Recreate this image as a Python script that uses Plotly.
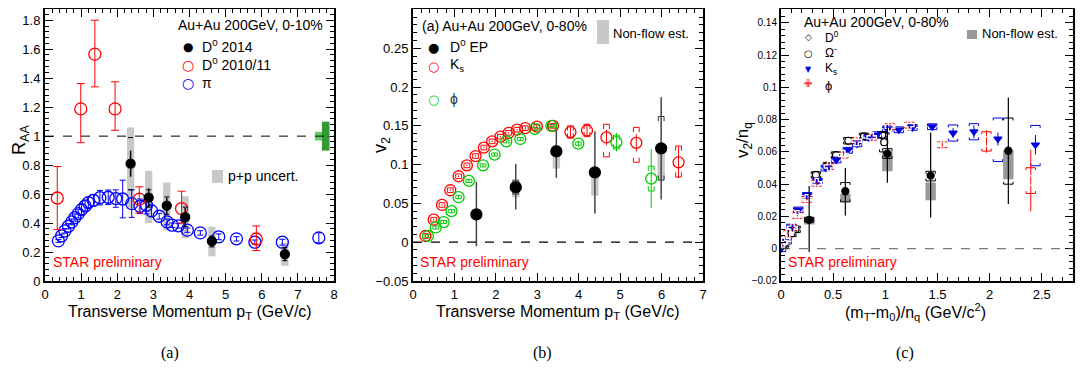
import plotly.graph_objects as go

# page body has an 8px margin: figure is sized to fit inside the window
OFF = 8
W, H = 1088 - 2 * OFF, 372 - 2 * OFF

# ---------------- Panel (a): R_AA ----------------
a_pi_x = [0.37, 0.46, 0.55, 0.65, 0.74, 0.83, 0.92, 1.01, 1.11, 1.20, 1.34, 1.52, 1.75, 1.96, 2.15,
          2.40, 2.63, 2.81, 2.95, 3.16, 3.38, 3.52, 3.69, 3.94, 4.30, 4.81, 5.30, 5.81, 6.57, 7.58]
a_pi_y = [0.277, 0.312, 0.346, 0.378, 0.408, 0.438, 0.465, 0.493, 0.518, 0.541, 0.557, 0.575, 0.578, 0.569, 0.566,
          0.534, 0.516, 0.523, 0.484, 0.447, 0.408, 0.385, 0.381, 0.351, 0.332, 0.305, 0.291, 0.268, 0.268, 0.298]
a_pi_err = [0.01, 0.012, 0.015, 0.018, 0.02, 0.025, 0.03, 0.035, 0.035, 0.035, 0.04, 0.05, 0.05, 0.06, 0.13,
            0.095, 0.05, 0.06, 0.04, 0.02, 0.02, 0.015, 0.015, 0.015, 0.015, 0.02, 0.015, 0.015, 0.02, 0.035]

a_d11_x = [0.34, 0.99, 1.38, 1.94, 2.61, 3.78, 5.85]
a_d11_y = [0.573, 1.188, 1.566, 1.188, 0.565, 0.50, 0.29]
a_d11_up = [0.217, 0.175, 0.234, 0.187, 0.085, 0.12, 0.09]
a_d11_dn = [0.218, 0.233, 0.226, 0.148, 0.095, 0.10, 0.08]

a_d14_x = [2.37, 2.87, 3.37, 3.88, 4.62, 6.64]
a_d14_y = [0.81, 0.575, 0.52, 0.44, 0.275, 0.185]
a_d14_up = [0.09, 0.065, 0.055, 0.065, 0.04, 0.045]
a_d14_dn = [0.09, 0.065, 0.06, 0.065, 0.04, 0.045]
a_d14_syshi = [0.99, 0.63, 0.58, 0.51, 0.31, 0.23]
a_d14_syslo = [0.63, 0.51, 0.46, 0.375, 0.235, 0.14]
a_d14_boxhi = [1.06, 0.76, 0.68, 0.585, 0.375, 0.265]
a_d14_boxlo = [0.50, 0.40, 0.35, 0.295, 0.17, 0.105]

a_ref_x = [7.57, 7.77]
a_ref_half = [0.10, 0.105]
a_ref_lo = [0.97, 0.90]
a_ref_hi = [1.03, 1.10]

# ---------------- Panel (b): v2 vs pT ----------------
b_ks_x = [0.30, 0.50, 0.70, 0.90, 1.10, 1.30, 1.51, 1.71, 1.91, 2.11, 2.31, 2.51, 2.71, 2.99, 3.38,
          3.80, 4.20, 4.67, 5.39, 6.41]
b_ks_y = [0.008, 0.029, 0.048, 0.067, 0.085, 0.099, 0.111, 0.122, 0.130, 0.136, 0.141, 0.145, 0.147, 0.149, 0.150,
          0.142, 0.144, 0.135, 0.128, 0.103]
b_ks_err = [0.001, 0.001, 0.001, 0.001, 0.001, 0.001, 0.001, 0.001, 0.001, 0.001, 0.001, 0.001, 0.002, 0.002, 0.002,
            0.006, 0.007, 0.010, 0.011, 0.020]
b_ks_sysup = [0.003] * 15 + [0.008, 0.008, 0.017, 0.020, 0.021]
b_ks_sysdn = [0.003] * 15 + [0.008, 0.008, 0.025, 0.025, 0.019]

b_phi_x = [0.36, 0.55, 0.74, 0.93, 1.10, 1.35, 1.69, 1.97, 2.25, 2.59, 2.94, 3.34, 3.99, 4.91, 5.75]
b_phi_y = [0.008, 0.019, 0.026, 0.040, 0.058, 0.079, 0.099, 0.113, 0.130, 0.133, 0.146, 0.150, 0.127, 0.129, 0.082]
b_phi_err = [0.002, 0.002, 0.002, 0.002, 0.002, 0.002, 0.002, 0.002, 0.002, 0.002, 0.002, 0.003, 0.004, 0.012, 0.038]
b_phi_sys = [0.002] * 13 + [0.009, 0.016]

b_d0_x = [1.53, 2.48, 3.46, 4.39, 5.99]
b_d0_y = [0.036, 0.071, 0.117, 0.090, 0.121]
b_d0_up = [0.042, 0.030, 0.028, 0.053, 0.066]
b_d0_dn = [0.041, 0.029, 0.034, 0.053, 0.066]
b_d0_syshi = [0.037, 0.080, 0.123, 0.094, 0.162]
b_d0_syslo = [0.035, 0.062, 0.112, 0.085, 0.080]
b_d0_boxhi = [0.036, 0.078, 0.125, 0.092, 0.121]
b_d0_boxlo = [0.036, 0.058, 0.095, 0.060, 0.080]

# ---------------- Panel (c): v2/nq vs (mT-m0)/nq ----------------
c_d0_x = [0.27, 0.617, 1.02, 1.435, 2.18]
c_d0_y = [0.0179, 0.0356, 0.0589, 0.0453, 0.0607]
c_d0_up = [0.021, 0.0144, 0.0177, 0.0267, 0.033]
c_d0_dn = [0.020, 0.015, 0.018, 0.026, 0.033]
c_d0_xerr = [0.04, 0.0, 0.0, 0.0, 0.0]
c_d0_syshi = [0.0195, 0.041, 0.062, 0.048, 0.081]
c_d0_syslo = [0.0165, 0.029, 0.056, 0.042, 0.040]
c_d0_boxhi = [0.0195, 0.034, 0.0604, 0.041, 0.061]
c_d0_boxlo = [0.015, 0.029, 0.048, 0.030, 0.043]

c_om_x = [0.03, 0.10, 0.14, 0.335, 0.45, 0.527, 0.646, 0.796, 0.97, 0.99]
c_om_y = [0.003, 0.0095, 0.012, 0.0457, 0.0515, 0.058, 0.0669, 0.0696, 0.0705, 0.066]
c_om_sys = [0.002, 0.002, 0.002, 0.002, 0.002, 0.002, 0.002, 0.002, 0.002, 0.006]

c_ks_x = [0.0, 0.054, 0.10, 0.166, 0.25, 0.35, 0.43, 0.53, 0.64, 0.73, 0.84, 0.92, 1.02, 1.13, 1.26,
          1.45, 1.65, 1.85, 2.08, 2.44]
c_ks_y = [0.0, 0.0047, 0.0134, 0.024, 0.033, 0.042, 0.050, 0.055, 0.061, 0.065, 0.069, 0.0706, 0.0743, 0.0737, 0.0752,
          0.0756, 0.0717, 0.0725, 0.068, 0.0644]
c_ks_err = [0.0005] * 15 + [0.001, 0.003, 0.004, 0.004, 0.006]
c_ks_sysup = [0.0018] * 16 + [0.005, 0.005, 0.013, 0.012]
c_ks_sysdn = [0.0018] * 16 + [0.005, 0.005, 0.014, 0.013]

c_phi_x = [0.02, 0.04, 0.07, 0.11, 0.157, 0.246, 0.342, 0.46, 0.598, 0.726, 0.87, 1.045, 1.23, 1.547, 1.97, 2.395]
c_phi_y = [0.004, 0.0056, 0.0093, 0.013, 0.0206, 0.0305, 0.0406, 0.051, 0.058, 0.0669, 0.069, 0.0756, 0.0766,
           0.0644, 0.0665, 0.0422]
c_phi_err = [0.0005] * 13 + [0.001, 0.007, 0.019]
c_phi_sys = [0.0018] * 14 + [0.006, 0.008]

# ---------------- helpers ----------------
def px(x):
    return (x - OFF) / W


def py(y):
    return min(1.0, max(0.0, 1 - (y - OFF) / H))


def brackets(xs, lo, hi, w, h):
    bx, by = [], []
    for x, l, u in zip(xs, lo, hi):
        hh = min(h, (u - l) / 2.0)
        bx += [x - w, x - w, x + w, x + w, None, x - w, x - w, x + w, x + w, None]
        by += [u - hh, u, u, u - hh, None, l + hh, l, l, l + hh, None]
    return bx, by


def caps(xs, lo, hi, w):
    bx, by = [], []
    for x, l, u in zip(xs, lo, hi):
        bx += [x - w, x + w, None, x - w, x + w, None]
        by += [u, u, None, l, l, None]
    return bx, by


fig = go.Figure()
shapes = []
ann = []

FONT = "Liberation Sans"


def box_shapes(xs, lo, hi, w, color, xr, yr):
    for x, l, u in zip(xs, lo, hi):
        if u - l <= 0:
            continue
        shapes.append(dict(type="rect", xref=xr, yref=yr, x0=x - w, x1=x + w, y0=l, y1=u,
                           fillcolor=color, line=dict(width=0), layer="below"))


def errtr(xs, ys, up, dn, color, xa, ya, sym, size, mcolor=None, fill=None, lw=1, cap=3, xerr=None, mlw=1.3):
    m = dict(symbol=sym, size=size, color=fill if fill else color,
             line=dict(color=mcolor if mcolor else color, width=mlw))
    t = go.Scatter(x=xs, y=ys, mode="markers", marker=m, xaxis=xa, yaxis=ya, showlegend=False,
                   error_y=dict(type="data", symmetric=False, array=up, arrayminus=dn,
                                color=color, thickness=lw, width=cap))
    if xerr is not None:
        t.error_x = dict(type="data", array=xerr, color=color, thickness=lw, width=0)
    return t


def linetr(bx, by, color, xa, ya, width=1):
    return go.Scatter(x=bx, y=by, mode="lines", line=dict(color=color, width=width),
                      xaxis=xa, yaxis=ya, showlegend=False, hoverinfo="skip")


# ---- panel (a)
box_shapes(a_d14_x, a_d14_boxlo, a_d14_boxhi, 0.1, "#c8c8c8", "x", "y")
for x, hw, l, u, c in zip(a_ref_x, a_ref_half, a_ref_lo, a_ref_hi, ["#66cc66", "#339933"]):
    shapes.append(dict(type="rect", xref="x", yref="y", x0=x - hw, x1=x + hw, y0=l, y1=u,
                       fillcolor=c, line=dict(width=0), layer="above"))
shapes.append(dict(type="line", xref="x domain", yref="y", x0=0, x1=1, y0=1, y1=1,
                   line=dict(color="black", width=1, dash="dash")))
fig.add_trace(errtr(a_pi_x, a_pi_y, a_pi_err, a_pi_err, "#0000ff", "x", "y", "circle-open", 12, cap=3))
fig.add_trace(errtr(a_d11_x, a_d11_y, a_d11_up, a_d11_dn, "#ff0000", "x", "y", "circle-open", 12, cap=4))
cx, cy = caps(a_d14_x, a_d14_syslo, a_d14_syshi, 0.07)
fig.add_trace(linetr(cx, cy, "black", "x", "y"))
fig.add_trace(errtr(a_d14_x, a_d14_y, a_d14_up, a_d14_dn, "black", "x", "y", "circle", 9, cap=0, lw=1.5))

# ---- panel (b)
box_shapes(b_d0_x, b_d0_boxlo, b_d0_boxhi, 0.09, "#c8c8c8", "x2", "y2")
shapes.append(dict(type="line", xref="x2 domain", yref="y2", x0=0, x1=1, y0=0, y1=0,
                   line=dict(color="black", width=1.2, dash="dash")))
bx, by = brackets(b_ks_x, [y - d for y, d in zip(b_ks_y, b_ks_sysdn)],
                  [y + u for y, u in zip(b_ks_y, b_ks_sysup)], 0.07, 0.006)
fig.add_trace(linetr(bx, by, "#ff0000", "x2", "y2"))
bx, by = brackets(b_phi_x, [y - d for y, d in zip(b_phi_y, b_phi_sys)],
                  [y + d for y, d in zip(b_phi_y, b_phi_sys)], 0.07, 0.006)
fig.add_trace(linetr(bx, by, "#00cc00", "x2", "y2"))
bx, by = brackets(b_d0_x, b_d0_syslo, b_d0_syshi, 0.07, 0.006)
fig.add_trace(linetr(bx, by, "#333333", "x2", "y2"))
fig.add_trace(errtr(b_ks_x, b_ks_y, b_ks_err, b_ks_err, "#ff0000", "x2", "y2", "circle-open", 11, cap=0))
fig.add_trace(errtr(b_phi_x, b_phi_y, b_phi_err, b_phi_err, "#00cc00", "x2", "y2", "circle-open", 11, cap=0))
fig.add_trace(errtr(b_d0_x, b_d0_y, b_d0_up, b_d0_dn, "#444444", "x2", "y2", "circle", 11,
                    mcolor="black", fill="black", cap=0, lw=1.5))

# ---- panel (c)
box_shapes(c_d0_x, c_d0_boxlo, c_d0_boxhi, 0.05, "#999999", "x3", "y3")
shapes.append(dict(type="line", xref="x3 domain", yref="y3", x0=0, x1=1, y0=0, y1=0,
                   line=dict(color="#555555", width=1, dash="dash")))
bx, by = brackets(c_om_x, [y - d for y, d in zip(c_om_y, c_om_sys)],
                  [y + d for y, d in zip(c_om_y, c_om_sys)], 0.045, 0.0015)
fig.add_trace(linetr(bx, by, "black", "x3", "y3"))
bx, by = brackets(c_ks_x, [y - d for y, d in zip(c_ks_y, c_ks_sysdn)],
                  [y + u for y, u in zip(c_ks_y, c_ks_sysup)], 0.045, 0.0015)
fig.add_trace(linetr(bx, by, "#0000dd", "x3", "y3"))
bx, by = brackets(c_phi_x, [y - d for y, d in zip(c_phi_y, c_phi_sys)],
                  [y + d for y, d in zip(c_phi_y, c_phi_sys)], 0.045, 0.0015)
fig.add_trace(linetr(bx, by, "#ff0000", "x3", "y3"))
bx, by = brackets(c_d0_x, c_d0_syslo, c_d0_syshi, 0.045, 0.0015)
fig.add_trace(linetr(bx, by, "black", "x3", "y3"))
fig.add_trace(go.Scatter(x=c_om_x, y=c_om_y, mode="markers", xaxis="x3", yaxis="y3", showlegend=False,
                         marker=dict(symbol="circle-open", size=7, color="black", line=dict(width=1.2))))
fig.add_trace(errtr(c_ks_x, c_ks_y, c_ks_err, c_ks_err, "#0000dd", "x3", "y3", "triangle-down", 7, cap=0))
fig.add_trace(errtr(c_phi_x, c_phi_y, c_phi_err, c_phi_err, "#ff0000", "x3", "y3", "cross-open", 8, cap=0,
                    fill="white"))
fig.add_trace(errtr(c_d0_x, c_d0_y, c_d0_up, c_d0_dn, "black", "x3", "y3", "circle", 7, cap=0,
                    xerr=c_d0_xerr, lw=1.2))


# ---------------- axes ----------------
def ax(domain, rng, dtick, mdtick, fsize=13, tick0=0):
    return dict(domain=domain, range=rng, autorange=False, automargin=False, dtick=dtick, tick0=tick0,
                showline=True, linecolor="black", linewidth=2, mirror="allticks",
                ticks="inside", ticklen=8, tickwidth=1, tickcolor="black",
                showgrid=False, zeroline=False,
                tickfont=dict(family=FONT, size=fsize, color="black"),
                minor=dict(ticks="inside", ticklen=4, tickwidth=1, tickcolor="black",
                           dtick=mdtick, tick0=tick0, showgrid=False))


ydom = [py(281), 0.997]
fig.update_layout(
    width=W, height=H, margin=dict(l=0, r=0, t=0, b=0, autoexpand=False),
    paper_bgcolor="white", plot_bgcolor="white",
    xaxis=dict(ax([px(45), px(334)], [0, 8], 1, 0.2), anchor="y"),
    yaxis=dict(ax(ydom, [0, 1.877], 0.2, 0.04), anchor="x", tickformat="~g"),
    xaxis2=dict(ax([px(413), px(703)], [0, 7], 1, 0.2), anchor="y2"),
    yaxis2=dict(ax(ydom, [-0.05, 0.3005], 0.05, 0.01, tick0=-0.05), anchor="x2", tickformat="~g"),
    xaxis3=dict(ax([px(781), px(1073)], [0, 2.8], 0.5, 0.1), anchor="y3", tickformat="~g"),
    yaxis3=dict(ax(ydom, [-0.02, 0.1485], 0.02, 0.004, fsize=10, tick0=-0.02), anchor="x3", tickformat="~g"),
    showlegend=False,
)


def text(x, y, s, size=14, color="black", anchor="left", family=FONT, angle=0):
    ann.append(dict(x=px(x), y=py(y), xref="paper", yref="paper", text=s, showarrow=False,
                    xanchor=anchor, yanchor="middle", textangle=angle,
                    font=dict(family=family, size=size, color=color)))


def prect(x0, x1, y0, y1, color):
    shapes.append(dict(type="rect", xref="paper", yref="paper", x0=px(x0), x1=px(x1),
                       y0=py(y1), y1=py(y0), fillcolor=color, line=dict(width=0)))


SYM = "DejaVu Sans"
# panel (a) texts
text(176, 25, "Au+Au 200GeV, 0-10%", 14)
text(188, 47, "●", 12, "black", "center", SYM)
text(200, 46, "D<sup>0</sup> 2014", 14)
text(188, 65, "○", 14, "#ff0000", "center", SYM)
text(200, 64, "D<sup>0</sup> 2010/11", 14)
text(188, 83, "○", 14, "#0000ff", "center", SYM)
text(200, 83, "π", 14)
prect(212, 223, 170, 183, "#c8c8c8")
text(226, 176, "p+p uncert.", 14)
text(51, 262, "STAR preliminary", 14, "#ff0000")
text(20, 140, "R<sub>AA</sub>", 18, angle=-90, anchor="center")
text(190, 312, "Transverse Momentum p<sub>T</sub> (GeV/c)", 16, anchor="center")
text(170, 353, "(a)", 16, family="Liberation Serif", anchor="center")

# panel (b) texts
text(420, 26, "(a) Au+Au 200GeV, 0-80%", 14)
prect(597, 609, 20, 44, "#c8c8c8")
text(611, 33, "Non-flow est.", 13)
text(433, 47, "●", 13, "black", "center", SYM)
text(448, 46, "D<sup>0</sup> EP", 14)
text(433, 66, "○", 13, "#ff0000", "center", SYM)
text(448, 65, "K<sub>s</sub>", 14)
text(433, 99, "○", 13, "#00cc00", "center", SYM)
text(448, 99, "ϕ", 14, "#333333")
text(418, 262, "STAR preliminary", 14, "#ff0000")
text(381, 145, "v<sub>2</sub>", 18, angle=-90, anchor="center")
text(558, 312, "Transverse Momentum p<sub>T</sub> (GeV/c)", 16, anchor="center")
text(542, 353, "(b)", 16, family="Liberation Serif", anchor="center")

# panel (c) texts
text(802, 22, "Au+Au 200GeV, 0-80%", 14)
text(808, 37, "◇", 9, "black", "center", SYM)
text(823, 37, "D<sup>0</sup>", 12)
text(808, 53, "○", 10, "black", "center", SYM)
text(823, 52, "Ω<sup>-</sup>", 12)
text(808, 69, "▼", 8, "#0000dd", "center", SYM)
text(823, 69, "K<sub>s</sub>", 12)
text(808, 84, "✙", 10, "#ff0000", "center", SYM)
text(823, 85, "ϕ", 13)
prect(967, 977, 30, 39, "#999999")
text(980, 34, "Non-flow est.", 13)
text(786, 262, "STAR preliminary", 14, "#ff0000")
text(744, 140, "v<sub>2</sub>/n<sub>q</sub>", 17, angle=-90, anchor="center")
text(915, 312, "(m<sub>T</sub>-m<sub>0</sub>)/n<sub>q</sub> (GeV/c<sup>2</sup>)", 16, anchor="center")
text(905, 353, "(c)", 16, family="Liberation Serif", anchor="center")

fig.update_layout(shapes=shapes, annotations=ann)
fig.write_html("out.html")
